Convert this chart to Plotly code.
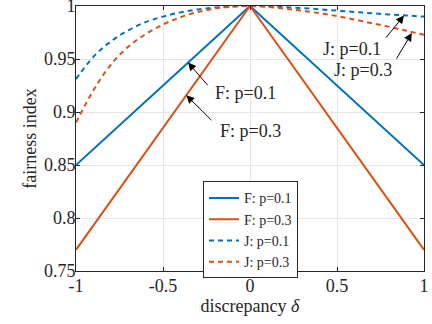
import plotly.graph_objects as go

# discrepancy values
delta = [-1.0, -0.9, -0.8, -0.7, -0.6, -0.5, -0.4, -0.3, -0.2, -0.1, 0.0,
         0.1, 0.2, 0.3, 0.4, 0.5, 0.6, 0.7, 0.8, 0.9, 1.0]
delta_f = [-1.0, 0.0, 1.0]

# fairness index F (linear)
f_p01 = [0.85, 1.0, 0.85]
f_p03 = [0.77, 1.0, 0.77]

# Jain index J
j_p01 = [0.931, 0.952, 0.9665, 0.977, 0.9848, 0.990, 0.9940, 0.9968, 0.9986, 0.9996, 1.0,
         0.9997, 0.9990, 0.9980, 0.9969, 0.9956, 0.9944, 0.9931, 0.9920, 0.9910, 0.9900]
j_p03 = [0.890, 0.9205, 0.9445, 0.9615, 0.9735, 0.9825, 0.9894, 0.9943, 0.9976, 0.9994, 1.0,
         0.9992, 0.9975, 0.9955, 0.9932, 0.9905, 0.9872, 0.9838, 0.9803, 0.9766, 0.9728]

labels = ["F: p=0.1", "F: p=0.3", "J: p=0.1", "J: p=0.3"]
blue = "#0072BD"
red = "#D95319"
FONT = "Liberation Serif"
TXT = "#262626"

fig = go.Figure()
fig.add_trace(go.Scatter(x=delta_f, y=f_p01, mode="lines", name=labels[0],
                         line=dict(color=blue, width=2)))
fig.add_trace(go.Scatter(x=delta_f, y=f_p03, mode="lines", name=labels[1],
                         line=dict(color=red, width=2)))
fig.add_trace(go.Scatter(x=delta, y=j_p01, mode="lines", name=labels[2],
                         line=dict(color=blue, width=2, dash="5px,4px", shape="spline")))
fig.add_trace(go.Scatter(x=delta, y=j_p03, mode="lines", name=labels[3],
                         line=dict(color=red, width=2, dash="5px,4px", shape="spline")))

# arrows (head x, head y, tail x, tail y)
arrows = [
    (-0.356, 0.9466, -0.236, 0.9239),
    (-0.366, 0.9158, -0.213, 0.8909),
    (0.885, 0.991, 0.774, 0.9686),
    (0.93, 0.9745, 0.837, 0.949),
]
for (hx, hy, tx, ty) in arrows:
    fig.add_annotation(x=hx, y=hy, ax=tx, ay=ty, xref="x", yref="y", axref="x", ayref="y",
                       showarrow=True, arrowhead=2, arrowsize=1.6, arrowwidth=1,
                       arrowcolor="black", text="")

texts = [
    (-0.214, 0.9176, labels[0], "left"),
    (-0.186, 0.8824, labels[1], "left"),
    (0.763, 0.9592, labels[2], "right"),
    (0.826, 0.9396, labels[3], "right"),
]
for (x, y, t, anc) in texts:
    fig.add_annotation(x=x, y=y, xref="x", yref="y", text=t, showarrow=False,
                       xanchor=anc, yanchor="middle",
                       font=dict(family=FONT, size=18, color=TXT))

axis_common = dict(showline=True, linecolor=TXT, linewidth=1, mirror="allticks",
                   ticks="inside", ticklen=4, tickcolor=TXT,
                   showgrid=True, gridcolor="#e6e6e6", gridwidth=1, zeroline=False,
                   automargin=True, ticklabeloverflow="allow",
                   tickfont=dict(family=FONT, size=18, color=TXT))

fig.update_xaxes(range=[-1, 1], tickvals=[-1, -0.5, 0, 0.5, 1],
                 ticktext=["-1", "-0.5", "0", "0.5", "1"],
                 ticklabelstandoff=-2,
                 title=dict(text="discrepancy <i>δ</i>", standoff=4,
                            font=dict(family=FONT, size=18, color=TXT)),
                 **axis_common)
fig.update_yaxes(range=[0.75, 1], tickvals=[0.75, 0.8, 0.85, 0.9, 0.95, 1],
                 ticktext=["0.75", "0.8", "0.85", "0.9", "0.95", "1"],
                 ticklabelstandoff=-4,
                 title=dict(text="fairness index", standoff=2,
                            font=dict(family=FONT, size=18, color=TXT)),
                 **axis_common)

fig.update_layout(
    width=432, height=324,
    margin=dict(l=76, r=8, t=6, b=53, autoexpand=False),
    plot_bgcolor="white", paper_bgcolor="white",
    showlegend=True,
    legend=dict(x=0.365, y=0.338, xanchor="left", yanchor="top",
                bgcolor="white", bordercolor=TXT, borderwidth=1,
                font=dict(family=FONT, size=14, color=TXT),
                itemwidth=30, tracegroupgap=0),
)

fig.write_html("out.html", config={"displayModeBar": False},
               post_script="document.body.style.margin='0';document.body.style.padding='0';")
